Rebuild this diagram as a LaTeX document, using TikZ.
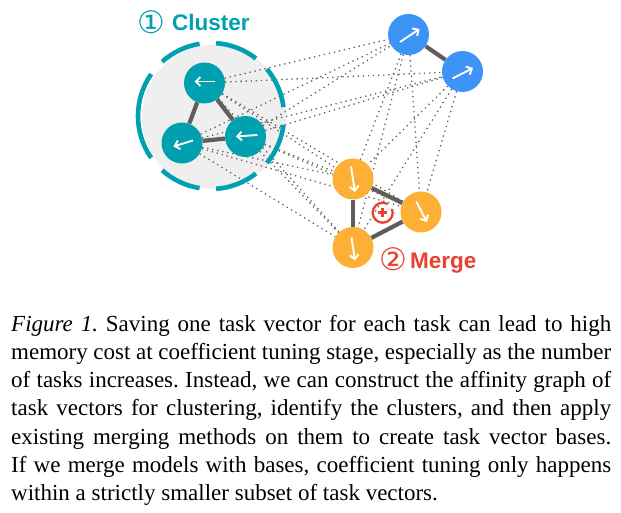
\documentclass[tikz,border=0pt]{standalone}
\usepackage{fontspec}
\setmainfont{Liberation Serif}
\newfontfamily\lsans{Liberation Sans}
\newfontfamily\dejavu{DejaVu Sans}
\usetikzlibrary{arrows.meta}
\definecolor{teal1}{RGB}{0,160,176}
\definecolor{blue1}{RGB}{61,148,246}
\definecolor{orange1}{RGB}{253,176,53}
\definecolor{red1}{RGB}{232,65,47}
\definecolor{edgegray}{RGB}{94,94,94}
\definecolor{dotgray}{RGB}{95,95,95}
\definecolor{bggray}{RGB}{239,239,239}
\pgfdeclarelayer{back}
\pgfdeclarelayer{mid}
\pgfsetlayers{back,mid,main}
\tikzset{
  vec/.style={circle, minimum size=41pt, inner sep=0pt, draw=none},
  tealvec/.style={vec, fill=teal1},
  bluevec/.style={vec, fill=blue1},
  orangevec/.style={vec, fill=orange1},
  solidedge/.style={draw=edgegray, line width=4.2pt},
  dotedge/.style={draw=dotgray, line width=1.3pt, dash pattern=on 1.3pt off 3.8pt},
  innerarrow/.style={draw=white, line width=1.9pt, -{Straight Barb[length=4.5pt,width=9pt]}},
  ringarc/.style={draw=teal1, line width=4.6pt},
  lbl/.style={inner sep=0pt, anchor=base west, font=\lsans\bfseries\fontsize{22.5}{27}\selectfont},
  circnum/.style={inner sep=0pt, anchor=center, font=\dejavu\fontsize{31}{36}\selectfont}
}
\begin{document}
\begin{tikzpicture}[x=1pt,y=-1pt]
\useasboundingbox (0,0) rectangle (621,513);
% cluster background
\begin{pgfonlayer}{back}
\fill[bggray] (214,117) circle[radius=72];
\end{pgfonlayer}
\coordinate (cc) at (211,116);
\foreach \a/\b in {7/40,52/86,99/132,145/215,228/261,274/308,320/353}{
  \draw[ringarc] (cc) ++(\a:73) arc[start angle=\a, end angle=\b, radius=73];
}
% nodes
\node[tealvec] (c1) at (204.5,83) {};
\node[tealvec] (c2) at (182,143) {};
\node[tealvec] (c3) at (245.5,136.5) {};
\node[bluevec] (b1) at (408.5,34.5) {};
\node[bluevec] (b2) at (462.5,71.5) {};
\node[orangevec] (o1) at (353,179) {};
\node[orangevec] (o2) at (421,212) {};
\node[orangevec] (o3) at (353,247.5) {};
% dotted affinity edges
\begin{pgfonlayer}{mid}
\foreach \s in {c1,c2,c3}{
  \foreach \t in {b1,b2,o1,o2,o3}{
    \draw[dotedge] (\s) -- (\t);
  }
}
\foreach \s in {b1,b2}{
  \foreach \t in {o1,o2,o3}{
    \draw[dotedge] (\s) -- (\t);
  }
}
% solid edges
\draw[solidedge] (c1) -- (c2);
\draw[solidedge] (c1) -- (c3);
\draw[solidedge] (c2) -- (c3);
\draw[solidedge] (b1) -- (b2);
\draw[solidedge] (o1) -- (o2);
\draw[solidedge] (o1) -- (o3);
\draw[solidedge] (o3) -- (o2);
\end{pgfonlayer}
% inner arrows
\draw[innerarrow] ([shift={(10.5,-1.5)}]c1.center) -- ([shift={(-10,-1.5)}]c1.center);
\draw[innerarrow] ([shift={(11,-2.5)}]c2.center) -- ([shift={(-8.5,3.5)}]c2.center);
\draw[innerarrow] ([shift={(12,-1.5)}]c3.center) -- ([shift={(-9.5,0)}]c3.center);
\draw[innerarrow] ([shift={(-8.5,7.5)}]b1.center) -- ([shift={(11,-5.5)}]b1.center);
\draw[innerarrow] ([shift={(-10,7)}]b2.center) -- ([shift={(10.5,-3.5)}]b2.center);
\draw[innerarrow] ([shift={(-2,-12.5)}]o1.center) -- ([shift={(2,13)}]o1.center);
\draw[innerarrow] ([shift={(-4.8,-10.5)}]o2.center) -- ([shift={(5.8,10)}]o2.center);
\draw[innerarrow] ([shift={(-1.5,-10)}]o3.center) -- ([shift={(2,13)}]o3.center);
% merge symbol
\coordinate (pl) at (382.7,212.7);
\draw[red1, line width=2.3pt] (pl) ++(-22:10) arc[start angle=-22, end angle=300, radius=10];
\draw[red1, line width=2.6pt] ([shift={(-4.6,0)}]pl) -- ([shift={(4.6,0)}]pl);
\draw[red1, line width=2.6pt] ([shift={(0,-4.6)}]pl) -- ([shift={(0,4.6)}]pl);
% labels
\node[circnum, text=teal1] (n1) at (151,22) {①};
\node[lbl, text=teal1] (l1) at (172,31) {Cluster};
\node[circnum, text=red1] (n2) at (393,259.5) {②};
\node[lbl, text=red1] (l2) at (410,268) {Merge};
% caption
\node[inner sep=0pt, anchor=base west] (cap) at (11,331) {\parbox[t]{600pt}{\fontsize{23}{28.3}\selectfont\frenchspacing\hyphenpenalty=10000\exhyphenpenalty=10000
\textit{Figure 1.} Saving one task vector for each task can lead to high\linebreak
memory cost at coefficient tuning stage, especially as the number\linebreak
of tasks increases. Instead, we can construct the affinity graph of\linebreak
task vectors for clustering, identify the clusters, and then apply\linebreak
existing merging methods on them to create task vector bases.\linebreak
If we merge models with bases, coefficient tuning only happens\linebreak
within a strictly smaller subset of task vectors.}};
\end{tikzpicture}
\end{document}
